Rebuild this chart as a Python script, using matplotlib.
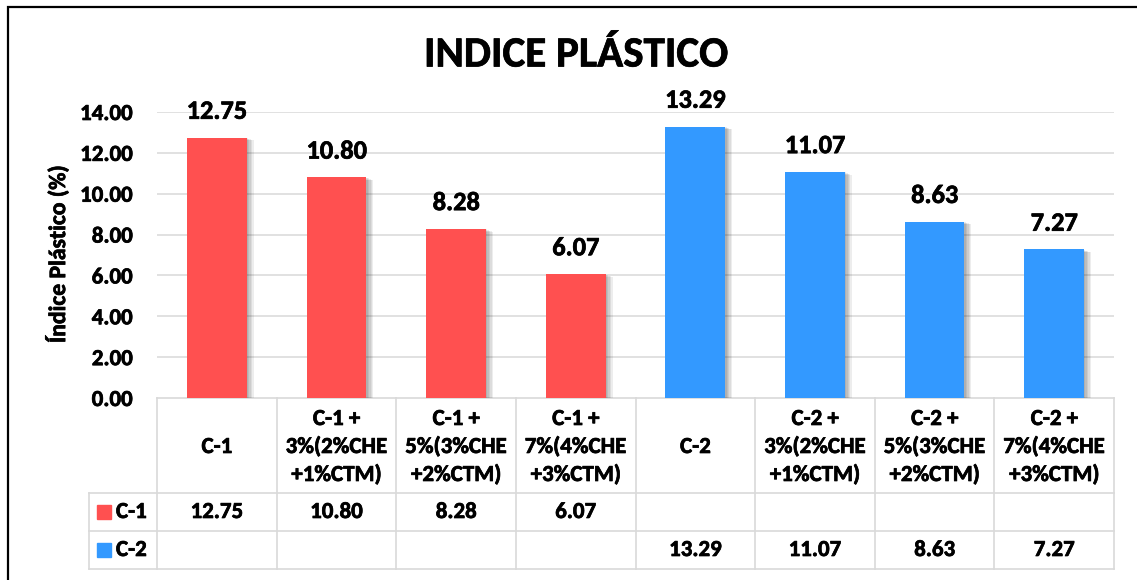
import numpy as np
import matplotlib.pyplot as plt
import matplotlib.patheffects as pe
from matplotlib.patches import Rectangle

plt.rcParams['font.family'] = ['Carlito', 'DejaVu Sans']
plt.rcParams['font.weight'] = 'bold'

# data
categories = ["C-1", "C-1 +\n3%(2%CHE\n+1%CTM)", "C-1 +\n5%(3%CHE\n+2%CTM)", "C-1 +\n7%(4%CHE\n+3%CTM)",
              "C-2", "C-2 +\n3%(2%CHE\n+1%CTM)", "C-2 +\n5%(3%CHE\n+2%CTM)", "C-2 +\n7%(4%CHE\n+3%CTM)"]
c1_values = [12.75, 10.80, 8.28, 6.07, np.nan, np.nan, np.nan, np.nan]
c2_values = [np.nan, np.nan, np.nan, np.nan, 13.29, 11.07, 8.63, 7.27]
series_names = ["C-1", "C-2"]
yticks = [0, 2, 4, 6, 8, 10, 12, 14]

red = '#FF5050'
blue = '#3399FF'
grid_col = '#D9D9D9'
fs = 16.5
# thicken glyphs a little, excel renders calibri bold heavier
heavy = [pe.withStroke(linewidth=0.5, foreground='black')]

W, H = 1137, 580
fig = plt.figure(figsize=(W / 100, H / 100), dpi=100)

# overlay in pixel coords (y down) for title, frame and table
ov = fig.add_axes([0, 0, 1, 1])
ov.set_xlim(0, W)
ov.set_ylim(H, 0)
ov.axis('off')

# plot area
px_left, px_right, px_top, px_bottom = 157, 1114, 112, 398
ax = fig.add_axes([px_left / W, 1 - px_bottom / H, (px_right - px_left) / W, (px_bottom - px_top) / H])
ax.set_facecolor('none')

x = np.arange(len(categories))
shadow = [pe.SimplePatchShadow(offset=(d, -0.4 * d), shadow_rgbFace='black', alpha=0.07) for d in (1, 2, 3, 4, 5)]
shadow.append(pe.Normal())

for vals, col in ((c1_values, red), (c2_values, blue)):
    vals = np.array(vals)
    ok = ~np.isnan(vals)
    bars = ax.bar(x[ok], vals[ok], width=0.5, color=col, zorder=3)
    for b, v in zip(bars, vals[ok]):
        b.set_path_effects(shadow)
        ax.annotate(f"{v:.2f}", (b.get_x() + b.get_width() / 2, v), xytext=(0, 13.5),
                    textcoords='offset points', ha='center', va='baseline',
                    fontsize=19, fontweight='bold', annotation_clip=False, path_effects=heavy)

ax.set_xlim(-0.5, len(categories) - 0.5)
ax.set_ylim(0, 14)
ax.set_yticks(yticks)
ax.set_yticklabels([f"{t:.2f}" for t in yticks], fontsize=fs, fontweight='bold')
for lab in ax.get_yticklabels():
    lab.set_path_effects(heavy)
ax.tick_params(axis='y', length=0, pad=17.5)
ax.set_xticks([])
for t in yticks[1:]:
    ax.axhline(t, color=grid_col, lw=1.1, zorder=1)
for s in ax.spines.values():
    s.set_visible(False)

# title and y label
ov.text(576, 55, "INDICE PLÁSTICO", ha='center', va='center', fontsize=31, fontweight='bold', path_effects=heavy)
ov.text(57, 254, "Índice Plástico (%)", ha='center', va='center', rotation=90, fontsize=17,
        fontweight='bold', path_effects=heavy)

# outer frame (left and top visible)
ov.plot([8, 8, W + 5], [H + 5, 7, 7], color='black', lw=1.6, solid_joinstyle='miter')

# data table
fig.canvas.draw()
edges = [ax.transData.transform((i - 0.5, 0))[0] for i in range(len(categories) + 1)]
row_y = [398, 493, 531, 569]
leg_left = 89
tl = dict(color=grid_col, lw=1.2)
ov.plot([edges[0], edges[-1]], [row_y[0], row_y[0]], **tl)
for yy in row_y[1:]:
    ov.plot([leg_left, edges[-1]], [yy, yy], **tl)
for e in edges:
    ov.plot([e, e], [row_y[0], row_y[-1]], **tl)
ov.plot([leg_left, leg_left], [row_y[1], row_y[-1]], **tl)

for i, cat in enumerate(categories):
    cx = (edges[i] + edges[i + 1]) / 2
    ov.text(cx, (row_y[0] + row_y[1]) / 2 + 1.5, cat, ha='center', va='center', fontsize=fs,
            fontweight='bold', linespacing=1.5, path_effects=heavy)

for r, (name, vals, col) in enumerate(zip(series_names, (c1_values, c2_values), (red, blue))):
    cy = (row_y[r + 1] + row_y[r + 2]) / 2
    ov.add_patch(Rectangle((97, cy - 7), 14, 14, color=col))
    ov.text(116, cy, name, ha='left', va='center', fontsize=fs, fontweight='bold', path_effects=heavy)
    for i, v in enumerate(vals):
        if not np.isnan(v):
            cx = (edges[i] + edges[i + 1]) / 2
            ov.text(cx, cy, f"{v:.2f}", ha='center', va='center', fontsize=fs, fontweight='bold',
                    path_effects=heavy)

fig.savefig('out.png', dpi=100)
